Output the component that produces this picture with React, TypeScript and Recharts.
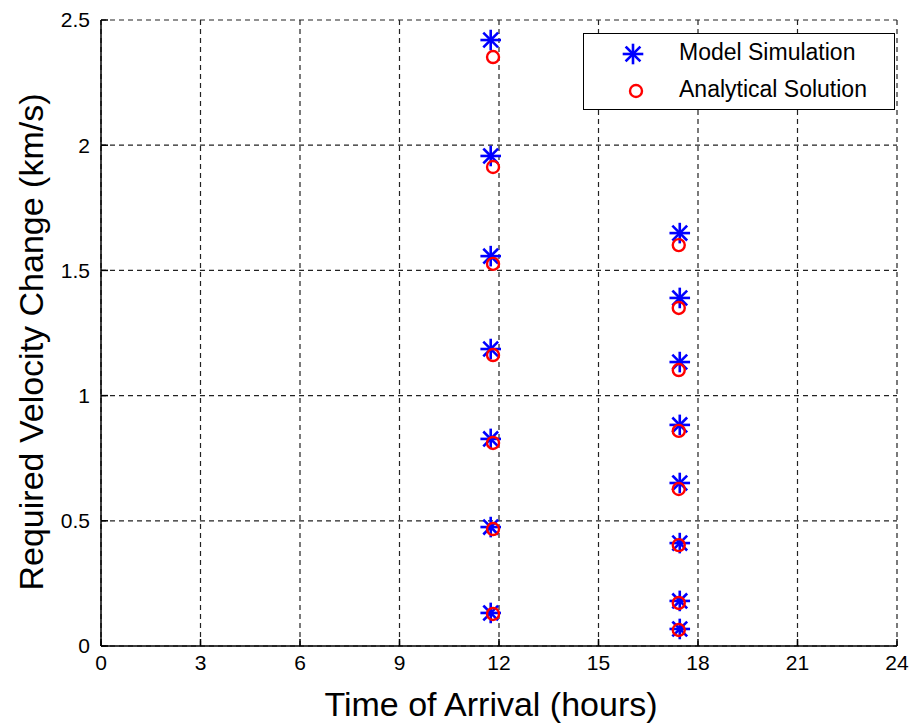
import React from 'react';
import { ScatterChart, Scatter, XAxis, YAxis, CartesianGrid, Legend } from 'recharts';

const leftTime = 11.75;
const rightTime = 17.45;
const leftTimeAnalytical = 11.82;
const rightTimeAnalytical = 17.42;

const modelLeft = [2.42, 1.957, 1.557, 1.186, 0.827, 0.475, 0.132];
const modelRight = [1.649, 1.39, 1.134, 0.883, 0.651, 0.411, 0.18, 0.068];
const analyticalLeft = [2.352, 1.913, 1.526, 1.162, 0.811, 0.467, 0.128];
const analyticalRight = [1.601, 1.35, 1.102, 0.859, 0.627, 0.403, 0.172, 0.064];

const xTicks = [0, 3, 6, 9, 12, 15, 18, 21, 24];
const yTicks = [0, 0.5, 1, 1.5, 2, 2.5];

const modelData = [
  ...modelLeft.map((v) => ({ t: leftTime, v })),
  ...modelRight.map((v) => ({ t: rightTime, v })),
];
const analyticalData = [
  ...analyticalLeft.map((v) => ({ t: leftTimeAnalytical, v })),
  ...analyticalRight.map((v) => ({ t: rightTimeAnalytical, v })),
];

const FONT = '"Liberation Sans", Arial, sans-serif';
const ARM = 9;

const Star = ({ cx, cy }: any) => {
  const d = ARM * 0.72;
  return (
    <g stroke="#0000ff" strokeWidth={2.6} strokeLinecap="square">
      <line x1={cx - ARM} y1={cy} x2={cx + ARM} y2={cy} />
      <line x1={cx} y1={cy - ARM} x2={cx} y2={cy + ARM} />
      <line x1={cx - d} y1={cy - d} x2={cx + d} y2={cy + d} />
      <line x1={cx - d} y1={cy + d} x2={cx + d} y2={cy - d} />
    </g>
  );
};

const Ring = ({ cx, cy }: any) => (
  <circle cx={cx} cy={cy} r={6} fill="none" stroke="#ff0000" strokeWidth={2.4} />
);

const LegendBox = () => (
  <div
    style={{
      width: 312,
      height: 77,
      boxSizing: 'border-box',
      border: '1.5px solid #000',
      background: '#fff',
      position: 'relative',
      fontFamily: FONT,
      fontSize: 23,
      color: '#000',
    }}
  >
    <svg width={60} height={77} style={{ position: 'absolute', left: 20, top: 0 }}>
      <Star cx={29} cy={20} />
      <Ring cx={32} cy={57} />
    </svg>
    <div style={{ position: 'absolute', left: 95, top: 5, whiteSpace: 'nowrap' }}>Model Simulation</div>
    <div style={{ position: 'absolute', left: 95, top: 42, whiteSpace: 'nowrap' }}>Analytical Solution</div>
  </div>
);

const App = () => (
  <div style={{ position: 'absolute', left: 0, top: 0, background: '#fff' }}>
    <ScatterChart
      width={914}
      height={723}
      margin={{ top: 20, right: 17, bottom: 0, left: 41 }}
      style={{ fontFamily: FONT }}
    >
      <CartesianGrid stroke="#222" strokeDasharray="5 4" strokeWidth={1.2} />
      <XAxis
        type="number"
        dataKey="t"
        domain={[0, 24]}
        ticks={xTicks}
        allowDataOverflow
        height={77}
        tickSize={-7}
        tickMargin={16}
        stroke="#000"
        strokeWidth={1.5}
        tick={{ fill: '#000', fontSize: 21, fontFamily: FONT }}
        label={(p: any) => (
          <text x={491} y={716} textAnchor="middle" fontSize={34} fontFamily={FONT} fill="#000">
            Time of Arrival (hours)
          </text>
        )}
      />
      <XAxis
        xAxisId="top"
        orientation="top"
        type="number"
        domain={[0, 24]}
        ticks={xTicks}
        allowDataOverflow
        height={0}
        axisLine={false}
        tickSize={-7}
        stroke="#000"
        strokeWidth={1.5}
        tick={() => <g />}
      />
      <YAxis
        type="number"
        dataKey="v"
        domain={[0, 2.5]}
        ticks={yTicks}
        allowDataOverflow
        width={60}
        tickSize={-7}
        tickMargin={18}
        stroke="#000"
        strokeWidth={1.5}
        tick={{ fill: '#000', fontSize: 21, fontFamily: FONT }}
        label={(p: any) => (
          <text
            x={0}
            y={0}
            transform="translate(43 342) rotate(-90)"
            textAnchor="middle"
            fontSize={34}
            fontFamily={FONT}
            fill="#000"
          >
            Required Velocity Change (km/s)
          </text>
        )}
      />
      <YAxis
        yAxisId="right"
        orientation="right"
        type="number"
        domain={[0, 2.5]}
        ticks={yTicks}
        allowDataOverflow
        width={0}
        axisLine={false}
        tickSize={-7}
        stroke="#000"
        strokeWidth={1.5}
        tick={() => <g />}
      />
      <Legend
        layout="vertical"
        align="center"
        verticalAlign="middle"
        wrapperStyle={{ position: 'absolute', left: 583, top: 33, width: 312, height: 77 }}
        content={() => <LegendBox />}
      />
      <Scatter name="Model Simulation" data={modelData} shape={<Star />} isAnimationActive={false} />
      <Scatter name="Analytical Solution" data={analyticalData} shape={<Ring />} isAnimationActive={false} />
    </ScatterChart>
  </div>
);

export default App;
